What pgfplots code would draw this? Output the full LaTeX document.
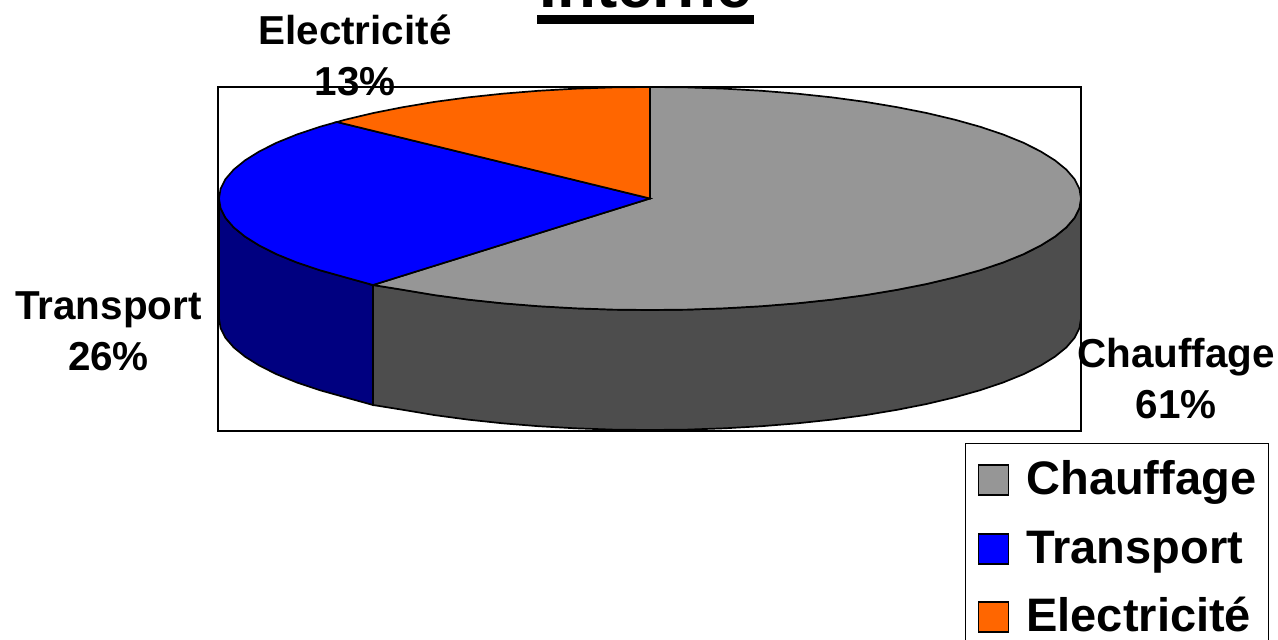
\documentclass[border=0pt]{standalone}
\usepackage{fontspec}
\setmainfont{Liberation Sans}
\usepackage{pgfplots}
\pgfplotsset{compat=1.18}
\definecolor{gray4D}{HTML}{4D4D4D}
\definecolor{blue80}{HTML}{000080}
\definecolor{gray96}{HTML}{969696}
\definecolor{pureblue}{HTML}{0000FF}
\definecolor{orangeF6}{HTML}{FF6600}
\begin{document}
\begin{tikzpicture}
\path[use as bounding box] (0,0) rectangle (639pt,320pt);
\clip (0,0) rectangle (639pt,320pt);
\begin{axis}[
  at={(0,0)}, anchor=south west,
  scale only axis, width=639pt, height=320pt,
  xmin=0, xmax=1278, ymin=0, ymax=640, y dir=reverse,
  hide axis, clip=false,
  legend image code/.code={\path (-2pt,0pt); \draw[#1] (0pt,-6.25pt) rectangle (15pt,8.75pt);},
  legend cell align=left,
  legend style={at={(0.7551,0.3078)}, anchor=north west, draw=black, line width=0.7pt,
    font=\fontsize{23.5}{23.5}\selectfont\bfseries, inner xsep=4pt, inner ysep=6.5pt,
    row sep=8.25pt, nodes={inner sep=2pt, text depth=5pt, text height=17pt},
    /tikz/every odd column/.append style={column sep=6.5pt}},
]
% frame
\addplot[draw=black, line width=0.55pt, forget plot] coordinates {(218,87) (1081,87) (1081,431) (218,431)} -- cycle;
% side of Chauffage
\addplot[fill=gray4D, draw=black, line width=0.85pt, forget plot] coordinates {
(1081,198.5) (1079.4,208.2) (1074.5,217.9) (1066.3,227.4) (1055,236.6) (1040.6,245.6) (1023.3,254.3) (1003.1,262.5) (980.2,270.2) (954.8,277.3) (927,283.9) (897.2,289.8) (865.5,295.1) (832.1,299.6) (797.4,303.3) (761.6,306.2) (724.8,308.3) (687.6,309.6) (650,310) (612.4,309.6) (575.2,308.3) (538.4,306.2) (502.6,303.3) (467.9,299.6) (434.5,295.1) (402.8,289.8) (373,285)
(373,405)
(402.8,409.8) (434.5,415.1) (467.9,419.6) (502.6,423.3) (538.4,426.2) (575.2,428.3) (612.4,429.6) (650,430) (687.6,429.6) (724.8,428.3) (761.6,426.2) (797.4,423.3) (832.1,419.6) (865.5,415.1) (897.2,409.8) (927,403.9) (954.8,397.3) (980.2,390.2) (1003.1,382.5) (1023.3,374.3) (1040.6,365.6) (1055,356.6) (1066.3,347.4) (1074.5,337.9) (1079.4,328.2) (1081,318.5)
} -- cycle;
% side of Transport
\addplot[fill=blue80, draw=black, line width=0.85pt, forget plot] coordinates {
(373,285) (345.2,277.3) (319.8,270.2) (296.9,262.5) (276.7,254.3) (259.4,245.6) (245,236.6) (233.7,227.4) (225.5,217.9) (220.6,208.2) (219,198.5)
(219,318.5) (220.6,328.2) (225.5,337.9) (233.7,347.4) (245,356.6) (259.4,365.6) (276.7,374.3) (296.9,382.5) (319.8,390.2) (345.2,397.3) (373,405)
} -- cycle;
% top of Chauffage
\addplot[fill=gray96, draw=black, line width=0.85pt] coordinates {
(650,198.5) (650,87) (687.6,87.4) (724.8,88.7) (761.6,90.8) (797.4,93.7) (832.1,97.4) (865.5,101.9) (897.2,107.2) (927,113.1) (954.8,119.7) (980.2,126.8) (1003.1,134.5) (1023.3,142.7) (1040.6,151.4) (1055,160.4) (1066.3,169.6) (1074.5,179.1) (1079.4,188.8) (1081,198.5) (1079.4,208.2) (1074.5,217.9) (1066.3,227.4) (1055,236.6) (1040.6,245.6) (1023.3,254.3) (1003.1,262.5) (980.2,270.2) (954.8,277.3) (927,283.9) (897.2,289.8) (865.5,295.1) (832.1,299.6) (797.4,303.3) (761.6,306.2) (724.8,308.3) (687.6,309.6) (650,310) (612.4,309.6) (575.2,308.3) (538.4,306.2) (502.6,303.3) (467.9,299.6) (434.5,295.1) (402.8,289.8) (373,285)
} -- cycle;
\addlegendentry{Chauffage}
% top of Transport
\addplot[fill=pureblue, draw=black, line width=0.85pt] coordinates {
(650,198.5) (373,285) (345.2,277.3) (319.8,270.2) (296.9,262.5) (276.7,254.3) (259.4,245.6) (245,236.6) (233.7,227.4) (225.5,217.9) (220.6,208.2) (219,198.5) (220.6,188.8) (225.5,179.1) (233.7,169.6) (245,160.4) (259.4,151.4) (276.7,142.7) (296.9,134.5) (319.8,126.8) (337,122)
} -- cycle;
\addlegendentry{Transport}
% top of Electricite
\addplot[fill=orangeF6, draw=black, line width=0.85pt] coordinates {
(650,198.5) (337,122) (345.2,119.7) (373,113.1) (402.8,107.2) (434.5,101.9) (467.9,97.4) (502.6,93.7) (538.4,90.8) (575.2,88.7) (612.4,87.4) (650,87)
} -- cycle;
\addlegendentry{Electricité}
% title
\node[font=\fontsize{31.8}{31.8}\selectfont\bfseries, anchor=base] at (axis cs:645.5,8) {Interne};
\draw[line width=4.5pt] (axis cs:537,19.5) -- (axis cs:754,19.5);
% data labels
\node[font=\fontsize{20.2}{25.5}\selectfont\bfseries, align=center] at (axis cs:355,55.5) {Electricité\\13\%};
\node[font=\fontsize{20.2}{25.5}\selectfont\bfseries, align=center] at (axis cs:108.5,331) {Transport\\26\%};
\node[font=\fontsize{20.2}{25.5}\selectfont\bfseries, align=center] at (axis cs:1176,379) {Chauffage\\61\%};
\end{axis}
\end{tikzpicture}
\end{document}
